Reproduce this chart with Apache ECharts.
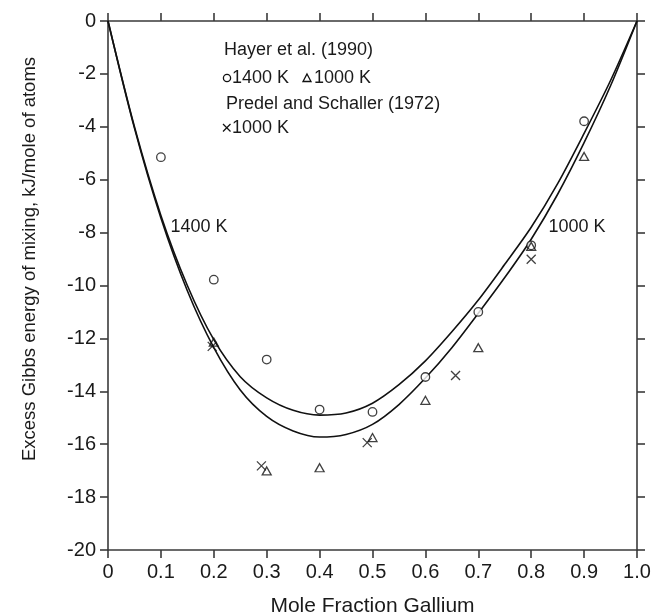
<!DOCTYPE html>
<html>
<head>
<meta charset="utf-8">
<script src="https://cdn.jsdelivr.net/npm/echarts@6/dist/echarts.min.js"></script>
<style>
html,body{margin:0;padding:0;background:#fff;}
#c{width:666px;height:615px;}
</style>
</head>
<body>
<div id="c"></div>
<script>
// ---- data ----
const curveX    = [0, 0.05, 0.1, 0.15, 0.2, 0.25, 0.3, 0.35, 0.4, 0.45, 0.5, 0.55, 0.6, 0.65, 0.7, 0.75, 0.8, 0.85, 0.9, 0.95, 1.0];
const curve1400 = [0, -4.0, -7.35, -10.0, -12.05, -13.45, -14.25, -14.72, -14.9, -14.82, -14.45, -13.75, -12.85, -11.75, -10.55, -9.2, -7.8, -6.15, -4.25, -2.25, 0];
const curve1000 = [0, -4.05, -7.45, -10.2, -12.35, -13.95, -14.95, -15.5, -15.73, -15.63, -15.25, -14.5, -13.5, -12.35, -11.05, -9.7, -8.25, -6.55, -4.6, -2.45, 0];

const hayer1400X = [0.1, 0.2, 0.3, 0.4, 0.5, 0.6, 0.7, 0.8, 0.9];
const hayer1400Y = [-5.15, -9.78, -12.8, -14.69, -14.78, -13.46, -11.0, -8.48, -3.79];

const hayer1000X = [0.2, 0.3, 0.4, 0.5, 0.6, 0.7, 0.8, 0.9];
const hayer1000Y = [-12.14, -17.01, -16.89, -15.75, -14.34, -12.35, -8.52, -5.12];

const predelX = [0.197, 0.29, 0.49, 0.657, 0.8];
const predelY = [-12.3, -16.82, -15.94, -13.4, -9.01];

const xTicks = [0, 0.1, 0.2, 0.3, 0.4, 0.5, 0.6, 0.7, 0.8, 0.9, 1.0];
const xTickLabels = ['0', '0.1', '0.2', '0.3', '0.4', '0.5', '0.6', '0.7', '0.8', '0.9', '1.0'];

const xTitle = 'Mole Fraction Gallium';
const yTitle = 'Excess Gibbs energy of mixing, kJ/mole of atoms';

// ---- chart ----
const zip = (xs, ys) => xs.map((x, i) => [x, ys[i]]);
const FONT = '"Liberation Sans", Arial, Helvetica, sans-serif';
const AX = '#3a3a3a';
const TXT = '#1a1a1a';
const crossPath = 'path://M0,0L10,10M10,0L0,10';

const chart = echarts.init(document.getElementById('c'), null, {renderer: 'canvas'});

const baseAxis = {
  axisLine: {show: true, onZero: false, lineStyle: {color: AX, width: 1.6}},
  axisTick: {show: true, inside: false, length: 8, lineStyle: {color: AX, width: 1.6}},
  splitLine: {show: false}
};

chart.setOption({
  animation: false,
  backgroundColor: '#fff',
  grid: {left: 108, right: 29, top: 21, bottom: 65, containLabel: false, outerBoundsMode: 'none'},
  xAxis: [
    Object.assign({}, baseAxis, {
      type: 'value', position: 'bottom', min: 0, max: 1, interval: 0.1,
      axisLabel: {
        margin: 12, fontSize: 20, color: TXT, fontFamily: FONT,
        formatter: v => { const i = xTicks.findIndex(t => Math.abs(t - v) < 1e-6); return i >= 0 ? xTickLabels[i] : ''; }
      },
      name: xTitle, nameLocation: 'middle', nameGap: 46,
      nameTextStyle: {fontSize: 21, color: TXT, fontFamily: FONT}
    }),
    Object.assign({}, baseAxis, {
      type: 'value', position: 'top', min: 0, max: 1, interval: 0.1,
      axisLabel: {show: false}
    })
  ],
  yAxis: [
    Object.assign({}, baseAxis, {
      type: 'value', position: 'left', min: -20, max: 0, interval: 2,
      axisLabel: {margin: 12, fontSize: 20, color: TXT, fontFamily: FONT}
    }),
    Object.assign({}, baseAxis, {
      type: 'value', position: 'right', min: -20, max: 0, interval: 2,
      axisLabel: {show: false}
    })
  ],
  graphic: [
    {type: 'text', x: 30, y: 259, rotation: Math.PI / 2,
     style: {text: yTitle, font: '18.5px ' + FONT, fill: TXT, textAlign: 'center', textVerticalAlign: 'middle'}},
    {type: 'text', x: 224, y: 50,
     style: {text: 'Hayer et al. (1990)', font: '18px ' + FONT, fill: TXT, textAlign: 'left', textVerticalAlign: 'middle'}},
    {type: 'circle', shape: {cx: 227, cy: 78, r: 3.6}, style: {fill: 'none', stroke: '#111', lineWidth: 1.3}},
    {type: 'text', x: 232, y: 78,
     style: {text: '1400 K', font: '18px ' + FONT, fill: TXT, textAlign: 'left', textVerticalAlign: 'middle'}},
    {type: 'polygon', shape: {points: [[307, 74], [311, 81.5], [303, 81.5]]}, style: {fill: 'none', stroke: '#111', lineWidth: 1.3}},
    {type: 'text', x: 314, y: 78,
     style: {text: '1000 K', font: '18px ' + FONT, fill: TXT, textAlign: 'left', textVerticalAlign: 'middle'}},
    {type: 'text', x: 226, y: 104,
     style: {text: 'Predel and Schaller (1972)', font: '18px ' + FONT, fill: TXT, textAlign: 'left', textVerticalAlign: 'middle'}},
    {type: 'polyline', shape: {points: [[223, 124], [230.5, 131.5]]}, style: {stroke: '#111', lineWidth: 1.3, fill: 'none'}},
    {type: 'polyline', shape: {points: [[230.5, 124], [223, 131.5]]}, style: {stroke: '#111', lineWidth: 1.3, fill: 'none'}},
    {type: 'text', x: 232, y: 128,
     style: {text: '1000 K', font: '18px ' + FONT, fill: TXT, textAlign: 'left', textVerticalAlign: 'middle'}},
    {type: 'text', x: 199, y: 227,
     style: {text: '1400 K', font: '18px ' + FONT, fill: TXT, textAlign: 'center', textVerticalAlign: 'middle'}},
    {type: 'text', x: 577, y: 227,
     style: {text: '1000 K', font: '18px ' + FONT, fill: TXT, textAlign: 'center', textVerticalAlign: 'middle'}}
  ],
  series: [
    {type: 'line', name: '1400 K model', data: zip(curveX, curve1400), smooth: 0.3, showSymbol: false,
     lineStyle: {color: '#111', width: 1.6}, z: 3},
    {type: 'line', name: '1000 K model', data: zip(curveX, curve1000), smooth: 0.3, showSymbol: false,
     lineStyle: {color: '#111', width: 1.6}, z: 3},
    {type: 'scatter', name: 'Hayer 1400 K', data: zip(hayer1400X, hayer1400Y), symbol: 'circle', symbolSize: 8.5,
     itemStyle: {color: '#fff', borderColor: '#111', borderWidth: 1.3}, z: 4},
    {type: 'scatter', name: 'Hayer 1000 K', data: zip(hayer1000X, hayer1000Y), symbol: 'triangle', symbolSize: [9, 8],
     itemStyle: {color: 'rgba(255,255,255,0)', borderColor: '#111', borderWidth: 1.3}, z: 4},
    {type: 'scatter', name: 'Predel 1000 K', data: zip(predelX, predelY), symbol: crossPath, symbolSize: 9,
     itemStyle: {color: 'rgba(0,0,0,0)', borderColor: '#111', borderWidth: 1.3}, z: 4}
  ]
});
</script>
</body>
</html>
